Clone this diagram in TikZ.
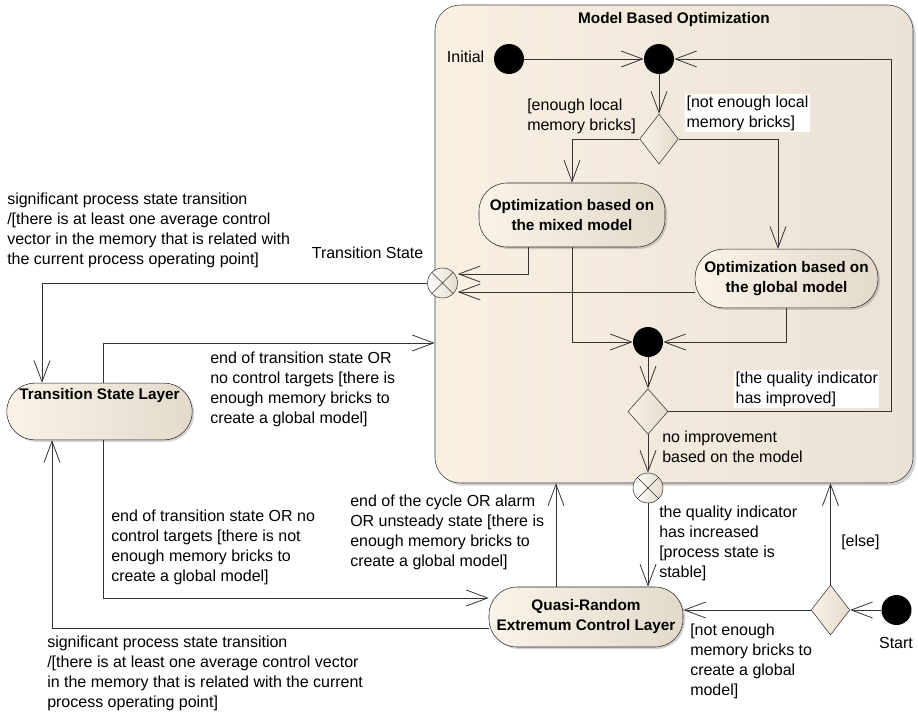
\documentclass[tikz,border=0pt]{standalone}
\usepackage{fontspec}
\setmainfont{Liberation Sans}
\usepackage{xcolor}
\usepackage{tikz}
\usetikzlibrary{arrows.meta,positioning,shapes.geometric,shadows}
\definecolor{stlight}{HTML}{FAF3E8}
\definecolor{stdark}{HTML}{E3DACB}
\definecolor{bglight}{HTML}{F9F0E2}
\definecolor{bgdark}{HTML}{EAE2D6}
\begin{document}
\begin{tikzpicture}[x=0.75pt,y=-0.75pt,
every node/.style={font=\fontsize{12}{15}\selectfont},
act/.style={rectangle,rounded corners=21pt,draw=black!85,left color=stlight,right color=stdark,
  font=\fontsize{11.5}{15}\selectfont\bfseries,align=center,inner sep=0pt,
  drop shadow={shadow xshift=1.5pt,shadow yshift=-1.5pt,opacity=0.35}},
region/.style={rectangle,rounded corners=19pt,draw=black!75,left color=bglight,right color=bgdark,
  minimum width=358.5pt,minimum height=358.5pt,inner sep=0pt,
  drop shadow={shadow xshift=2pt,shadow yshift=-2pt,opacity=0.35}},
dot/.style={circle,fill=black,minimum size=22.5pt,inner sep=0pt},
xcirc/.style={circle,draw=black!80,left color=white,right color=stdark,minimum size=22.5pt,inner sep=0pt,
  path picture={\draw[black!80] (path picture bounding box.south west)--(path picture bounding box.north east)
  (path picture bounding box.north west)--(path picture bounding box.south east);}},
dec/.style={diamond,draw=black!80,left color=stlight,right color=stdark,minimum width=29pt,minimum height=37.5pt,inner sep=0pt},
lbl/.style={align=left,inner sep=0pt,anchor=north west},
arr/.style={draw=black!80,line width=0.6pt,-{Straight Barb[length=16pt,width=12pt,line width=0.6pt]}}]
\useasboundingbox (0,0) rectangle (918,717);
\node[region] (mbo) at (674,244) {};
\node[font=\fontsize{11.5}{15}\selectfont\bfseries,anchor=base] (mbotitle) at (674,24) {Model Based Optimization};
\node[dot] (init) at (509,59) {};
\node[anchor=base east] (initlbl) at (489,63) {Initial};
\node[dot] (merge) at (659,59) {};
\node[dec] (done) at (659,139) {};
\node[act,minimum width=139.5pt,minimum height=48pt] (mixed) at (572,215) {Optimization based on\\the mixed model};
\node[act,minimum width=137pt,minimum height=44pt] (glob) at (786.5,278.5) {Optimization based on\\the global model};
\node[xcirc] (ts) at (442.5,283) {};
\node[anchor=base east] (tslbl) at (428,258) {Transition State};
\node[dot] (join) at (648,342) {};
\node[dec,minimum width=30pt,minimum height=34pt] (dtwo) at (648,411.5) {};
\node[xcirc] (exitx) at (648,488) {};
\node[act,minimum width=145.5pt,minimum height=45pt] (quasi) at (586,617) {Quasi-Random\\Extremum Control Layer};
\node[dec] (dthree) at (830.5,610) {};
\node[dot] (start) at (896.5,610) {};
\node[anchor=base] (startlbl) at (896,648) {Start};
\node[act,minimum width=139pt,text height=12.5pt,text depth=30pt] (tsl) at (99.5,411.5) {Transition State Layer};

\node[lbl] (l1) at (527,99) {[enough local\\memory bricks]};
\node[lbl,fill=white,inner sep=1pt] (l2) at (685,94) {[not enough local\\memory bricks]};
\node[lbl,fill=white,inner sep=1pt] (l3) at (734,370) {[the quality indicator\\has improved]};
\node[lbl] (l4) at (662,431) {no improvement\\based on the model};
\node[lbl] (l5) at (7,193) {significant process state transition\\/[there is at least one average control\\vector in the memory that is related with\\the current process operating point]};
\node[lbl] (l6) at (210,352) {end of transition state OR\\no control targets [there is\\enough memory bricks to\\create a global model]};
\node[lbl] (l7) at (111,510) {end of transition state OR no\\control targets [there is not\\enough memory bricks to\\create a global model]};
\node[lbl] (l8) at (350,495) {end of the cycle OR alarm\\OR unsteady state [there is\\enough memory bricks to\\create a global model]};
\node[lbl] (l9) at (659,506) {the quality indicator\\has increased\\{}[process state is\\stable]};
\node[lbl] (l10) at (841,535) {[else]};
\node[lbl] (l11) at (690,624) {[not enough\\memory bricks to\\create a global\\model]};
\node[lbl] (l12) at (47,636) {significant process state transition\\/[there is at least one average control vector\\in the memory that is related with the current\\process operating point]};

\draw[arr] (init) -- (merge);
\draw[arr] (merge) -- (done);
\draw[arr] (done.west) -| (mixed.north);
\draw[arr] (done.east) -| (glob.north -| 778,0);
\draw[arr] (mixed.south -| 528,0) |- (ts.east |- 0,274);
\draw[arr] (glob.west |- 0,292) -- (ts.east |- 0,292);
\draw[arr] (mixed.south) |- (join.west);
\draw[arr] (glob.south) |- (join.east);
\draw[arr] (join) -- (dtwo);
\draw[arr] (dtwo.east) -- ++(223,0) |- (merge.east);
\draw[arr] (dtwo) -- (exitx);
\draw[arr] (exitx) -- (quasi.north -| exitx);
\draw[arr] (quasi.north -| 556,0) -- (mbo.south -| 556,0);
\draw[arr] (start) -- (dthree);
\draw[arr] (dthree) -- (quasi.east |- dthree);
\draw[arr] (dthree) -- (mbo.south -| dthree);
\draw[arr] (ts.west) -| (tsl.north -| 42,0);
\draw[arr] (tsl.north -| 103,0) |- (mbo.west |- 0,343);
\draw[arr] (tsl.south -| 103,0) |- (quasi.west |- 0,598);
\draw[arr] (quasi.west |- 0,628) -| (tsl.south -| 52,0);
\end{tikzpicture}
\end{document}
